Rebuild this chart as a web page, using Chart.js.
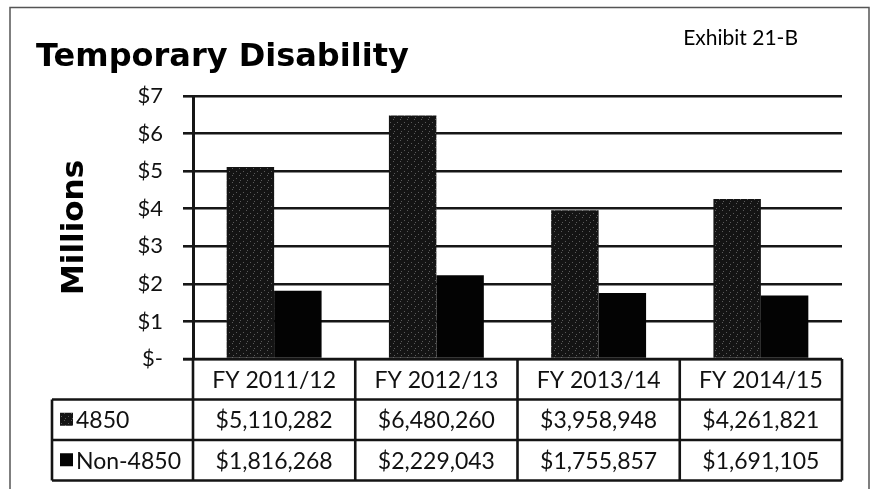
<!DOCTYPE html>
<html>
<head>
<meta charset="utf-8">
<script src="https://cdn.jsdelivr.net/npm/chart.js@4.4.0/dist/chart.umd.min.js"></script>
<style>
  html, body { margin: 0; padding: 0; background: #fff; }
  #wrap { width: 871px; height: 489px; position: relative; }
</style>
</head>
<body>
<div id="wrap"><canvas id="c" width="871" height="489"></canvas></div>
<script>
const chartTitle = 'Temporary Disability';
const exhibitLabel = 'Exhibit 21-B';
const axisTitle = 'Millions';
const categories = ['FY 2011/12', 'FY 2012/13', 'FY 2013/14', 'FY 2014/15'];
const seriesNames = ['4850', 'Non-4850'];
const values4850 = [5110282, 6480260, 3958948, 4261821];
const valuesNon4850 = [1816268, 2229043, 1755857, 1691105];
const yTickLabels = ['$-', '$1', '$2', '$3', '$4', '$5', '$6', '$7'];

const TEXT_FONT = 'Lato, "Open Sans", sans-serif';
const TITLE_FONT = '"DejaVu Sans", Verdana, sans-serif';

function speckle() {
  const c = document.createElement('canvas');
  c.width = 7; c.height = 7;
  const g = c.getContext('2d');
  g.fillStyle = '#141414';
  g.fillRect(0, 0, 7, 7);
  g.fillStyle = '#5a5a5a';
  [[1,0],[5,3],[2,5]].forEach(p => g.fillRect(p[0], p[1], 1, 1));
  return g.createPattern(c, 'repeat');
}
const ctx0 = document.getElementById('c').getContext('2d');
const fill4850 = speckle();
const fillNon = '#030303';
const legendFills = [fill4850, fillNon];

function money(v) { return '$' + v.toLocaleString('en-US'); }

const decorPlugin = {
  id: 'decor',
  beforeDraw(chart) {
    const ctx = chart.ctx;
    ctx.save();
    ctx.strokeStyle = '#555';
    ctx.lineWidth = 1.5;
    ctx.strokeRect(10, 7.5, 859, 495);
    ctx.fillStyle = '#000';
    ctx.textBaseline = 'alphabetic';
    ctx.textAlign = 'left';
    ctx.font = 'bold 32px ' + TITLE_FONT;
    ctx.fillText(chartTitle, 36, 66);
    ctx.font = '21px ' + TEXT_FONT;
    ctx.textAlign = 'right';
    ctx.fillText(exhibitLabel, 798, 45);
    ctx.restore();
  },
  afterDraw(chart) {
    const ctx = chart.ctx;
    const area = chart.chartArea;
    const xs = chart.scales.x;
    const n = categories.length;
    const cw = (area.right - area.left) / n;
    const rowH = 40.5;
    const top = area.bottom;
    const legendLeft = 52;
    const rowData = [values4850, valuesNon4850];
    ctx.save();
    ctx.strokeStyle = '#141414';
    ctx.lineWidth = 2.6;
    ctx.beginPath();
    ctx.moveTo(area.left - 10, top); ctx.lineTo(area.right, top);
    for (let r = 1; r <= 3; r++) {
      const y = top + r * rowH;
      ctx.moveTo(legendLeft, y); ctx.lineTo(area.right, y);
    }
    ctx.moveTo(legendLeft, top + rowH); ctx.lineTo(legendLeft, top + 3 * rowH);
    for (let i = 0; i <= n; i++) {
      const x = i < n ? xs.getPixelForValue(i) - cw / 2 : xs.getPixelForValue(n - 1) + cw / 2;
      ctx.moveTo(x, top); ctx.lineTo(x, top + 3 * rowH);
    }
    ctx.stroke();
    ctx.fillStyle = '#111';
    ctx.font = '23px ' + TEXT_FONT;
    ctx.textAlign = 'center';
    ctx.textBaseline = 'middle';
    categories.forEach((c, i) => {
      ctx.fillText(c, xs.getPixelForValue(i), top + rowH / 2 + 1);
    });
    rowData.forEach((arr, r) => {
      const yc = top + (r + 1) * rowH + rowH / 2 + 1;
      arr.forEach((v, i) => {
        ctx.textAlign = 'center';
        ctx.fillText(money(v), xs.getPixelForValue(i), yc);
      });
      ctx.fillStyle = legendFills[r];
      ctx.fillRect(60, yc - 8, 13, 13);
      ctx.fillStyle = '#111';
      ctx.textAlign = 'left';
      ctx.fillText(seriesNames[r], 76, yc);
    });
    ctx.restore();
  }
};

new Chart(ctx0, {
  type: 'bar',
  data: {
    labels: categories,
    datasets: [
      { label: seriesNames[0], data: values4850.map(v => v / 1e6), backgroundColor: fill4850, borderWidth: 0,
        categoryPercentage: 0.585, barPercentage: 1.0 },
      { label: seriesNames[1], data: valuesNon4850.map(v => v / 1e6), backgroundColor: fillNon, borderWidth: 0,
        categoryPercentage: 0.585, barPercentage: 1.0 }
    ]
  },
  options: {
    responsive: false,
    animation: false,
    devicePixelRatio: 1,
    layout: { padding: { left: 0, top: 96, right: 29, bottom: 130 } },
    plugins: { legend: { display: false }, title: { display: false }, tooltip: { enabled: false } },
    scales: {
      x: { display: false },
      y: {
        min: 0, max: 7,
        afterFit(scale) { scale.width = 193; },
        ticks: {
          stepSize: 1,
          padding: 20,
          color: '#111',
          font: { family: TEXT_FONT, size: 22 },
          callback: (v) => yTickLabels[v]
        },
        grid: { color: '#161616', lineWidth: 2.6, tickLength: 10, drawTicks: true },
        border: { display: true, color: '#161616', width: 3 },
        title: {
          display: true,
          text: axisTitle,
          color: '#000',
          font: { family: TITLE_FONT, size: 31, weight: 'bold' },
          padding: { top: 56, bottom: 0 }
        }
      }
    }
  },
  plugins: [decorPlugin]
});
</script>
</body>
</html>
